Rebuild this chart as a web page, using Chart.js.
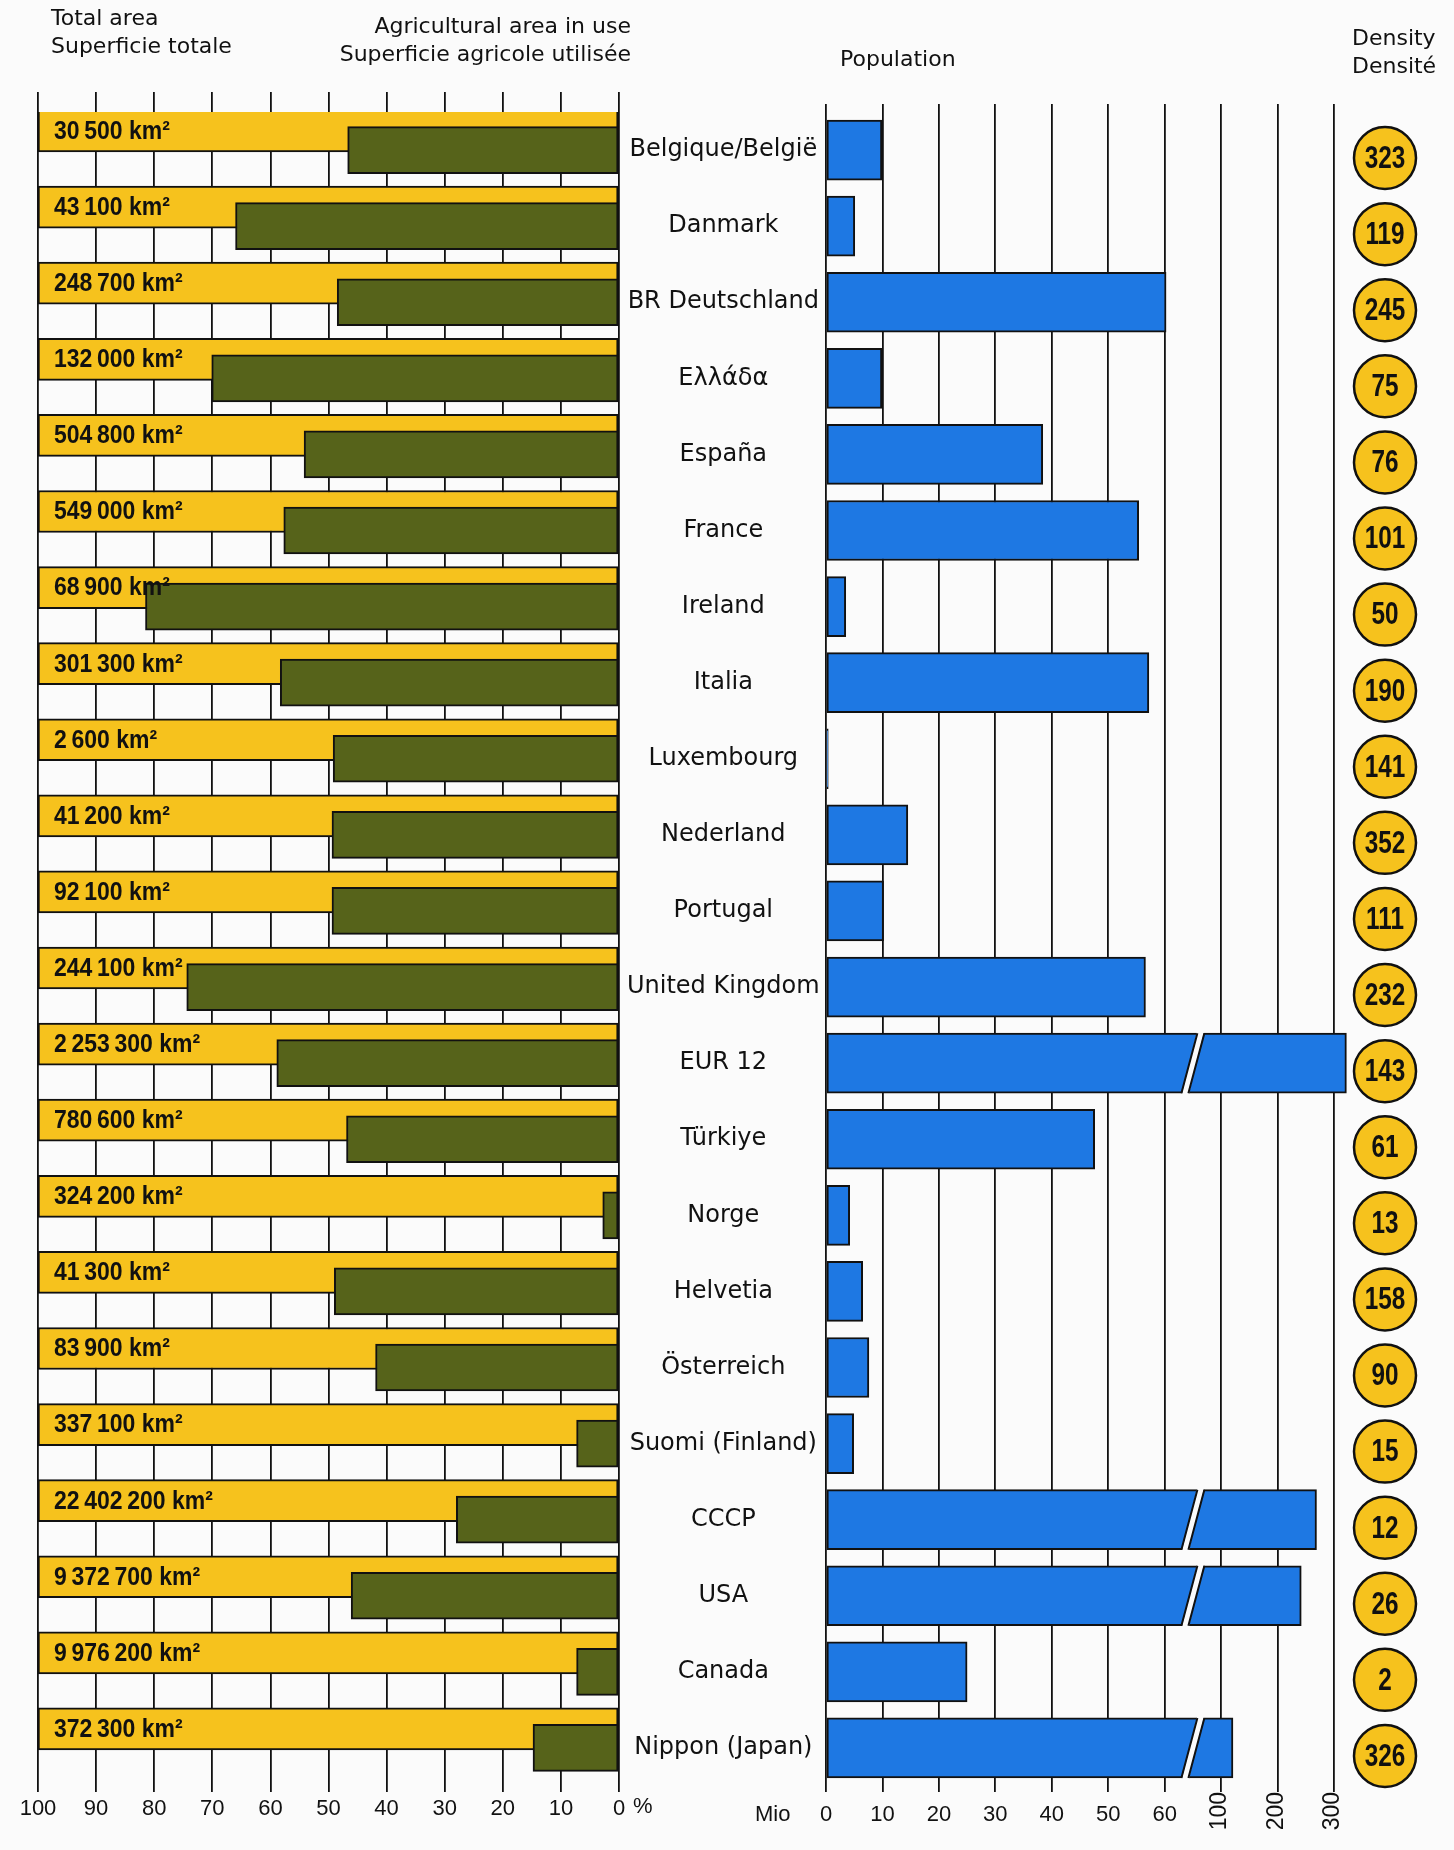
<!DOCTYPE html>
<html>
<head>
<meta charset="utf-8">
<title>Area, agricultural area, population, density</title>
<script src="https://cdn.jsdelivr.net/npm/chart.js@4.4.1/dist/chart.umd.min.js"></script>
<style>
  body { margin: 0; background: #fbfbfb; }
  #page { position: relative; width: 1454px; height: 1850px; overflow: hidden; font-family: "DejaVu Sans", sans-serif; color: #111; }
  canvas { position: absolute; left: 0; top: 0; }
  .t { position: absolute; font-size: 22px; line-height: 28px; white-space: nowrap; }
  .n { position: absolute; font-family: "Liberation Sans", sans-serif; font-size: 22px; line-height: 26px; }
</style>
</head>
<body>
<div id="page">
  <canvas id="areaChart" width="826" height="1850"></canvas>
  <canvas id="popChart" width="1454" height="1850"></canvas>

  <div class="t" style="left:51px; top:4px;">Total area<br>Superficie totale</div>
  <div class="t" style="right:823px; top:12px; text-align:right;">Agricultural area in use<br>Superficie agricole utilisée</div>
  <div class="t" style="left:840px; top:45px;">Population</div>
  <div class="t" style="left:1352px; top:24px;">Density<br>Densité</div>
  <div class="n" style="left:633px; top:1793px;">%</div>
  <div class="n" style="left:755px; top:1801px;">Mio</div>
</div>

<script>
const countries = ["Belgique/België", "Danmark", "BR Deutschland", "Ελλάδα", "España", "France",
  "Ireland", "Italia", "Luxembourg", "Nederland", "Portugal", "United Kingdom", "EUR 12",
  "Türkiye", "Norge", "Helvetia", "Österreich", "Suomi (Finland)", "CCCP", "USA", "Canada",
  "Nippon (Japan)"];
const totalAreaKm2 = [30500, 43100, 248700, 132000, 504800, 549000, 68900, 301300, 2600, 41200,
  92100, 244100, 2253300, 780600, 324200, 41300, 83900, 337100, 22402200, 9372700, 9976200, 372300];
const agriculturalPct = [46.7, 66.0, 48.5, 70.1, 54.2, 57.7, 81.5, 58.3, 49.2, 49.4, 49.4, 74.4,
  58.9, 46.9, 2.8, 49.0, 41.9, 7.3, 28.0, 46.1, 7.3, 14.8];
const populationMio = [9.9, 5.1, 61.0, 9.9, 38.4, 55.4, 3.5, 57.2, 0.4, 14.5, 10.2, 56.6, 322,
  47.6, 4.2, 6.5, 7.6, 4.9, 269, 242, 25.0, 121];
const densityPerKm2 = [323, 119, 245, 75, 76, 101, 50, 190, 141, 352, 111, 232, 143, 61, 13, 158,
  90, 15, 12, 26, 2, 326];
const pctTicks = [0, 10, 20, 30, 40, 50, 60, 70, 80, 90, 100];
const popTicks = [0, 10, 20, 30, 40, 50, 60, 100, 200, 300];

const YELLOW = "#f6c21d";
const GREEN = "#56631a";
const BLUE = "#1e78e3";
const INK = "#111";
const BG = "#fbfbfb";
const breakMio = 80;   // where long population bars get their cut

// total area is always the whole row (100 %)
const wholeArea = countries.map((c, i) => ({ x: 100, y: i }));

function km2(n) {
  return String(n).replace(/\B(?=(\d{3})+(?!\d))/g, "\u2009") + " km²";
}

// population axis: each tick interval gets the same width (0..60 by 10, then 100, 200, 300)
function tickUnits(v) {
  const last = popTicks.length - 1;
  for (let k = 1; k <= last; k++) {
    if (v <= popTicks[k] || k === last) {
      const a = popTicks[k - 1], b = popTicks[k];
      return (k - 1) + (v - a) / (b - a);
    }
  }
}

class BrokenScale extends Chart.LinearScale {
  buildTicks() {
    return popTicks.map(v => ({ value: v }));
  }
  getPixelForValue(v) {
    return this.getPixelForDecimal(tickUnits(v) / (popTicks.length - 1));
  }
  getValueForPixel(p) {
    const u = this.getDecimalForPixel(p) * (popTicks.length - 1);
    const k = Math.max(0, Math.min(popTicks.length - 2, Math.floor(u)));
    return popTicks[k] + (u - k) * (popTicks[k + 1] - popTicks[k]);
  }
}
BrokenScale.id = "broken";
BrokenScale.defaults = Chart.LinearScale.defaults;
Chart.register(BrokenScale);

Chart.defaults.font.family = '"Liberation Sans", sans-serif';
Chart.defaults.color = INK;

const areaLabels = {
  id: "areaLabels",
  afterDatasetsDraw(chart) {
    const ctx = chart.ctx, ys = chart.scales.yA;
    ctx.save();
    ctx.fillStyle = INK;
    ctx.font = 'bold 25px "Liberation Sans"';
    ctx.textBaseline = "middle";
    totalAreaKm2.forEach((a, i) => {
      ctx.save();
      ctx.translate(chart.chartArea.left + 16, ys.getPixelForValue(i) + 1);
      ctx.scale(0.92, 1);
      ctx.fillText(km2(a), 0, 0);
      ctx.restore();
    });
    ctx.restore();
  }
};

const popExtras = {
  id: "popExtras",
  afterDatasetsDraw(chart) {
    const ctx = chart.ctx, xs = chart.scales.x;
    const xb = xs.getPixelForValue(breakMio);
    const meta = chart.getDatasetMeta(0);
    meta.data.forEach((bar, i) => {
      if (populationMio[i] <= breakMio) return;
      const top = bar.y - bar.height / 2, bot = bar.y + bar.height / 2;
      const g = 3.5, s = 8;
      ctx.save();
      ctx.beginPath();
      ctx.moveTo(xb - g + s, top - 3);
      ctx.lineTo(xb + g + s, top - 3);
      ctx.lineTo(xb + g - s, bot + 3);
      ctx.lineTo(xb - g - s, bot + 3);
      ctx.closePath();
      ctx.fillStyle = BG;
      ctx.fill();
      ctx.beginPath();
      ctx.moveTo(xb - g + s, top); ctx.lineTo(xb - g - s, bot);
      ctx.moveTo(xb + g + s, top); ctx.lineTo(xb + g - s, bot);
      ctx.strokeStyle = INK;
      ctx.lineWidth = 2;
      ctx.stroke();
      ctx.restore();
    });
  },
  afterDraw(chart) {
    const ctx = chart.ctx, xs = chart.scales.x, ys = chart.scales.y;
    // vertical tick labels of the compressed part
    ctx.save();
    ctx.fillStyle = INK;
    ctx.font = '23px "Liberation Sans"';
    popTicks.forEach(v => {
      if (v <= 60) return;
      ctx.save();
      ctx.translate(xs.getPixelForValue(v) - 1, chart.chartArea.bottom + 6);
      ctx.rotate(-Math.PI / 2);
      ctx.textAlign = "right";
      ctx.textBaseline = "middle";
      ctx.fillText(String(v), 0, 0);
      ctx.restore();
    });
    // density discs
    const cx = chart.chartArea.right + 51;
    densityPerKm2.forEach((d, i) => {
      const cy = ys.getPixelForValue(i) + 8;
      ctx.beginPath();
      ctx.arc(cx, cy, 31, 0, Math.PI * 2);
      ctx.fillStyle = YELLOW;
      ctx.fill();
      ctx.lineWidth = 2.5;
      ctx.strokeStyle = INK;
      ctx.stroke();
      ctx.save();
      ctx.translate(cx, cy + 1);
      ctx.scale(0.76, 1);
      ctx.fillStyle = INK;
      ctx.font = 'bold 32px "Liberation Sans"';
      ctx.textAlign = "center";
      ctx.textBaseline = "middle";
      ctx.fillText(String(d), 0, 0);
      ctx.restore();
    });
    ctx.restore();
  }
};

// left panel: total area (yellow) and agricultural share (green)
new Chart(document.getElementById("areaChart"), {
  type: "bar",
  data: {
    labels: countries,
    datasets: [
      {
        label: "Agricultural area in use",
        data: agriculturalPct,
        yAxisID: "y",
        xAxisID: "x",
        backgroundColor: GREEN,
        borderColor: INK,
        borderWidth: 2,
        borderSkipped: false,
        barThickness: 47,
        grouped: false
      },
      {
        label: "Total area",
        data: wholeArea,
        yAxisID: "yA",
        xAxisID: "x",
        backgroundColor: YELLOW,
        borderColor: INK,
        borderWidth: 2,
        borderSkipped: false,
        barThickness: 42,
        grouped: false
      }
    ]
  },
  options: {
    indexAxis: "y",
    responsive: false,
    animation: false,
    devicePixelRatio: 1,
    layout: { padding: { left: 38, right: 0, top: 92, bottom: 0 } },
    plugins: { legend: { display: false }, tooltip: { enabled: false } },
    scales: {
      x: {
        type: "linear", position: "bottom", min: 0, max: 100, reverse: true,
        afterBuildTicks: s => { s.ticks = pctTicks.map(v => ({ value: v })); },
        grid: { color: INK, lineWidth: 1.8, tickLength: 6 },
        border: { display: false },
        ticks: { font: { size: 22 }, padding: 4, maxRotation: 0, autoSkip: false },
        afterFit: s => { s.height = 64; }
      },
      xTop: {
        type: "linear", position: "top", min: 0, max: 100, reverse: true,
        afterBuildTicks: s => { s.ticks = pctTicks.map(v => ({ value: v })); },
        grid: { color: INK, lineWidth: 1.8, tickLength: 20, drawOnChartArea: false },
        border: { display: false },
        ticks: { display: false },
        afterFit: s => { s.height = 20; }
      },
      y: {
        type: "category", position: "right",
        grid: { display: false }, border: { display: false },
        ticks: { font: { family: '"DejaVu Sans", sans-serif', size: 24 }, color: INK, crossAlign: "center", padding: 0, autoSkip: false },
        afterFit: s => { s.width = 207; }
      },
      yA: {
        type: "linear", display: false, offset: false, reverse: true,
        min: -0.25, max: countries.length - 0.25
      }
    }
  },
  plugins: [areaLabels]
});

// right panel: population
new Chart(document.getElementById("popChart"), {
  type: "bar",
  data: {
    labels: countries,
    datasets: [{
      label: "Population (Mio)",
      data: populationMio,
      backgroundColor: BLUE,
      borderColor: INK,
      borderWidth: 2,
      borderSkipped: false,
      barThickness: 60,
      clip: false
    }]
  },
  options: {
    indexAxis: "y",
    responsive: false,
    animation: false,
    devicePixelRatio: 1,
    layout: { padding: { left: 826, right: 120, top: 104, bottom: 0 } },
    plugins: { legend: { display: false }, tooltip: { enabled: false } },
    scales: {
      x: {
        type: "broken", position: "bottom", min: 0, max: 300,
        grid: { color: INK, lineWidth: 1.8, tickLength: 6 },
        border: { display: false },
        ticks: {
          font: { size: 22 }, padding: 10, maxRotation: 0, autoSkip: false,
          callback: v => (v <= 60 ? String(v) : "")
        },
        afterFit: s => { s.height = 64; }
      },
      xTop: {
        type: "broken", position: "top", min: 0, max: 300,
        grid: { color: INK, lineWidth: 1.8, tickLength: 8, drawOnChartArea: false },
        border: { display: false },
        ticks: { display: false },
        afterFit: s => { s.height = 8; }
      },
      y: { type: "category", display: false }
    }
  },
  plugins: [popExtras]
});
</script>
</body>
</html>
